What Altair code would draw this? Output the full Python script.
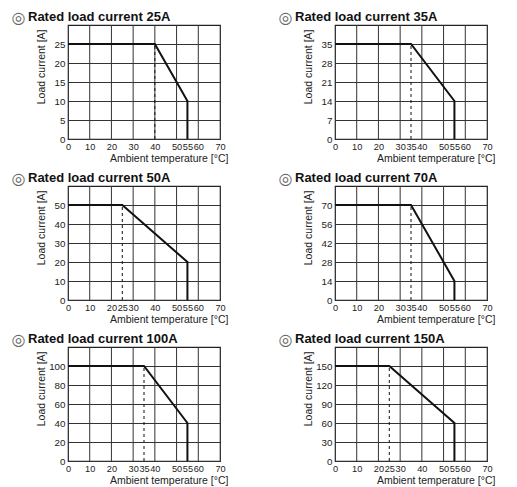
import altair as alt
import pandas as pd

# ---- data ----
titles = [
    "Rated load current 25A",
    "Rated load current 35A",
    "Rated load current 50A",
    "Rated load current 70A",
    "Rated load current 100A",
    "Rated load current 150A",
]
title_mark = "◎"
rated = [25, 35, 50, 70, 100, 150]          # current up to knee [A]
knee_temp = [40, 35, 25, 35, 35, 25]        # temperature where derating starts [°C]
end_current = [10, 14, 20, 14, 40, 60]      # current at 55 °C [A]
cutoff_temp = 55
x_grid = [10, 20, 30, 40, 50, 60]
x_label_base = [0, 10, 20, 30, 40, 50, 55, 60, 70]

W, H = 152, 114
FONT = "Liberation Sans"


def panel(i):
    r = rated[i]
    step = r / 5
    curve = pd.DataFrame({
        "t": [0, knee_temp[i], cutoff_temp, cutoff_temp],
        "a": [r, r, end_current[i], 0],
        "o": [0, 1, 2, 3],
    })
    xs = alt.Scale(domain=[0, 70], nice=False, zero=False)
    ys = alt.Scale(domain=[0, r * 1.2], nice=False)
    xlabels = sorted(set(x_label_base + [knee_temp[i]]))
    ylabels = [step * k for k in range(6)]

    xaxis = alt.Axis(
        values=xlabels, grid=False, ticks=False, tickSize=0, domain=False,
        labelPadding=3, labelFontSize=9.2, labelColor="#222", labelFont=FONT,
        title="Ambient temperature [°C]", titleFont=FONT, titleFontSize=10.5,
        titleFontWeight="normal", titleColor="#222",
        titleAlign="right", titleX=W + 8, titleY=19, titleBaseline="middle",
        labelFlush=False, labelOverlap=False,
    )
    yaxis = alt.Axis(
        values=ylabels, grid=True, gridColor="#333", gridWidth=1,
        ticks=False, tickSize=0, domain=False, format="d",
        labelExpr="datum.value == 0 ? '0\u00a0\u00a0' : datum.label",
        labelPadding=3, labelFontSize=9.8, labelColor="#222", labelFont=FONT,
        title="Load current [A]", titleFont=FONT, titleFontSize=10.5,
        titleFontWeight="normal", titleColor="#222",
        titleAngle=-90, titleAlign="right", titleBaseline="middle",
        titleX=-27, titleY=4, labelFlush=False, labelOverlap=False,
    )

    grid = alt.Chart(pd.DataFrame({"g": x_grid})).mark_rule(
        color="#333", strokeWidth=1
    ).encode(x=alt.X("g:Q", scale=xs, axis=xaxis))

    dash = alt.Chart(pd.DataFrame({"k": [knee_temp[i]], "r": [r], "z": [0]})).mark_rule(
        color="#111", strokeWidth=1, strokeDash=[3, 3]
    ).encode(
        x=alt.X("k:Q", scale=xs, axis=xaxis),
        y=alt.Y("z:Q", scale=ys, axis=yaxis),
        y2="r:Q",
    )

    line = alt.Chart(curve).mark_line(color="#111", strokeWidth=2, strokeJoin="miter").encode(
        x=alt.X("t:Q", scale=xs, axis=xaxis),
        y=alt.Y("a:Q", scale=ys, axis=yaxis),
        order="o:Q",
    )

    tdf = pd.DataFrame({"m": [title_mark], "t": [titles[i]]})
    mark = alt.Chart(tdf).mark_text(
        align="center", baseline="middle", font="DejaVu Sans", fontSize=16,
        color="#666",
    ).encode(text="m:N", x=alt.value(-49.5), y=alt.value(-7.5))
    ttl = alt.Chart(tdf).mark_text(
        align="left", baseline="alphabetic", font=FONT, fontSize=13,
        fontWeight="bold", color="#111",
    ).encode(text="t:N", x=alt.value(-40), y=alt.value(-4))

    return alt.layer(grid, dash, line, mark, ttl).properties(width=W, height=H)


chart = alt.concat(
    *[panel(i) for i in range(6)],
    columns=2,
    spacing={"row": 47, "column": 115},
    bounds="flush",
).properties(
    padding={"left": 2, "top": 0, "right": 0, "bottom": 0},
    background="white",
).configure_view(
    stroke="#222", strokeWidth=1.2
)

chart.save("out.html", embed_options={"renderer": "svg", "actions": False})
